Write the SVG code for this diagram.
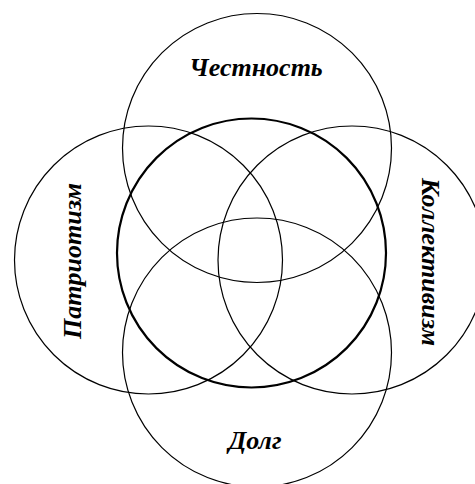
<svg xmlns="http://www.w3.org/2000/svg" width="475" height="484" viewBox="0 0 475 484">
<style>
.c{fill:none;stroke:#000;stroke-width:1.2}
.m{fill:none;stroke:#000;stroke-width:2.2}
.t{font-family:"Liberation Serif","Times New Roman",serif;font-weight:bold;font-style:italic;font-size:26px;fill:#000;text-anchor:middle}
</style>
<rect width="475" height="484" fill="#fff"/>
<g id="honesty"><circle class="c" cx="257" cy="148" r="134.5"/><text class="t" x="256" y="76">Честность</text></g>
<g id="patriotism"><circle class="c" cx="148.5" cy="260" r="134"/><text class="t" transform="translate(81 261) rotate(-90)">Патриотизм</text></g>
<g id="collectivism"><circle class="c" cx="352" cy="260" r="134"/><text class="t" transform="translate(422 262) rotate(90)">Коллективизм</text></g>
<g id="duty"><circle class="c" cx="257" cy="352.5" r="134.5"/><text class="t" x="255" y="449">Долг</text></g>
<g id="center"><circle class="m" cx="251.5" cy="253" r="134.5"/></g>
<g id="connectors"></g>
</svg>
